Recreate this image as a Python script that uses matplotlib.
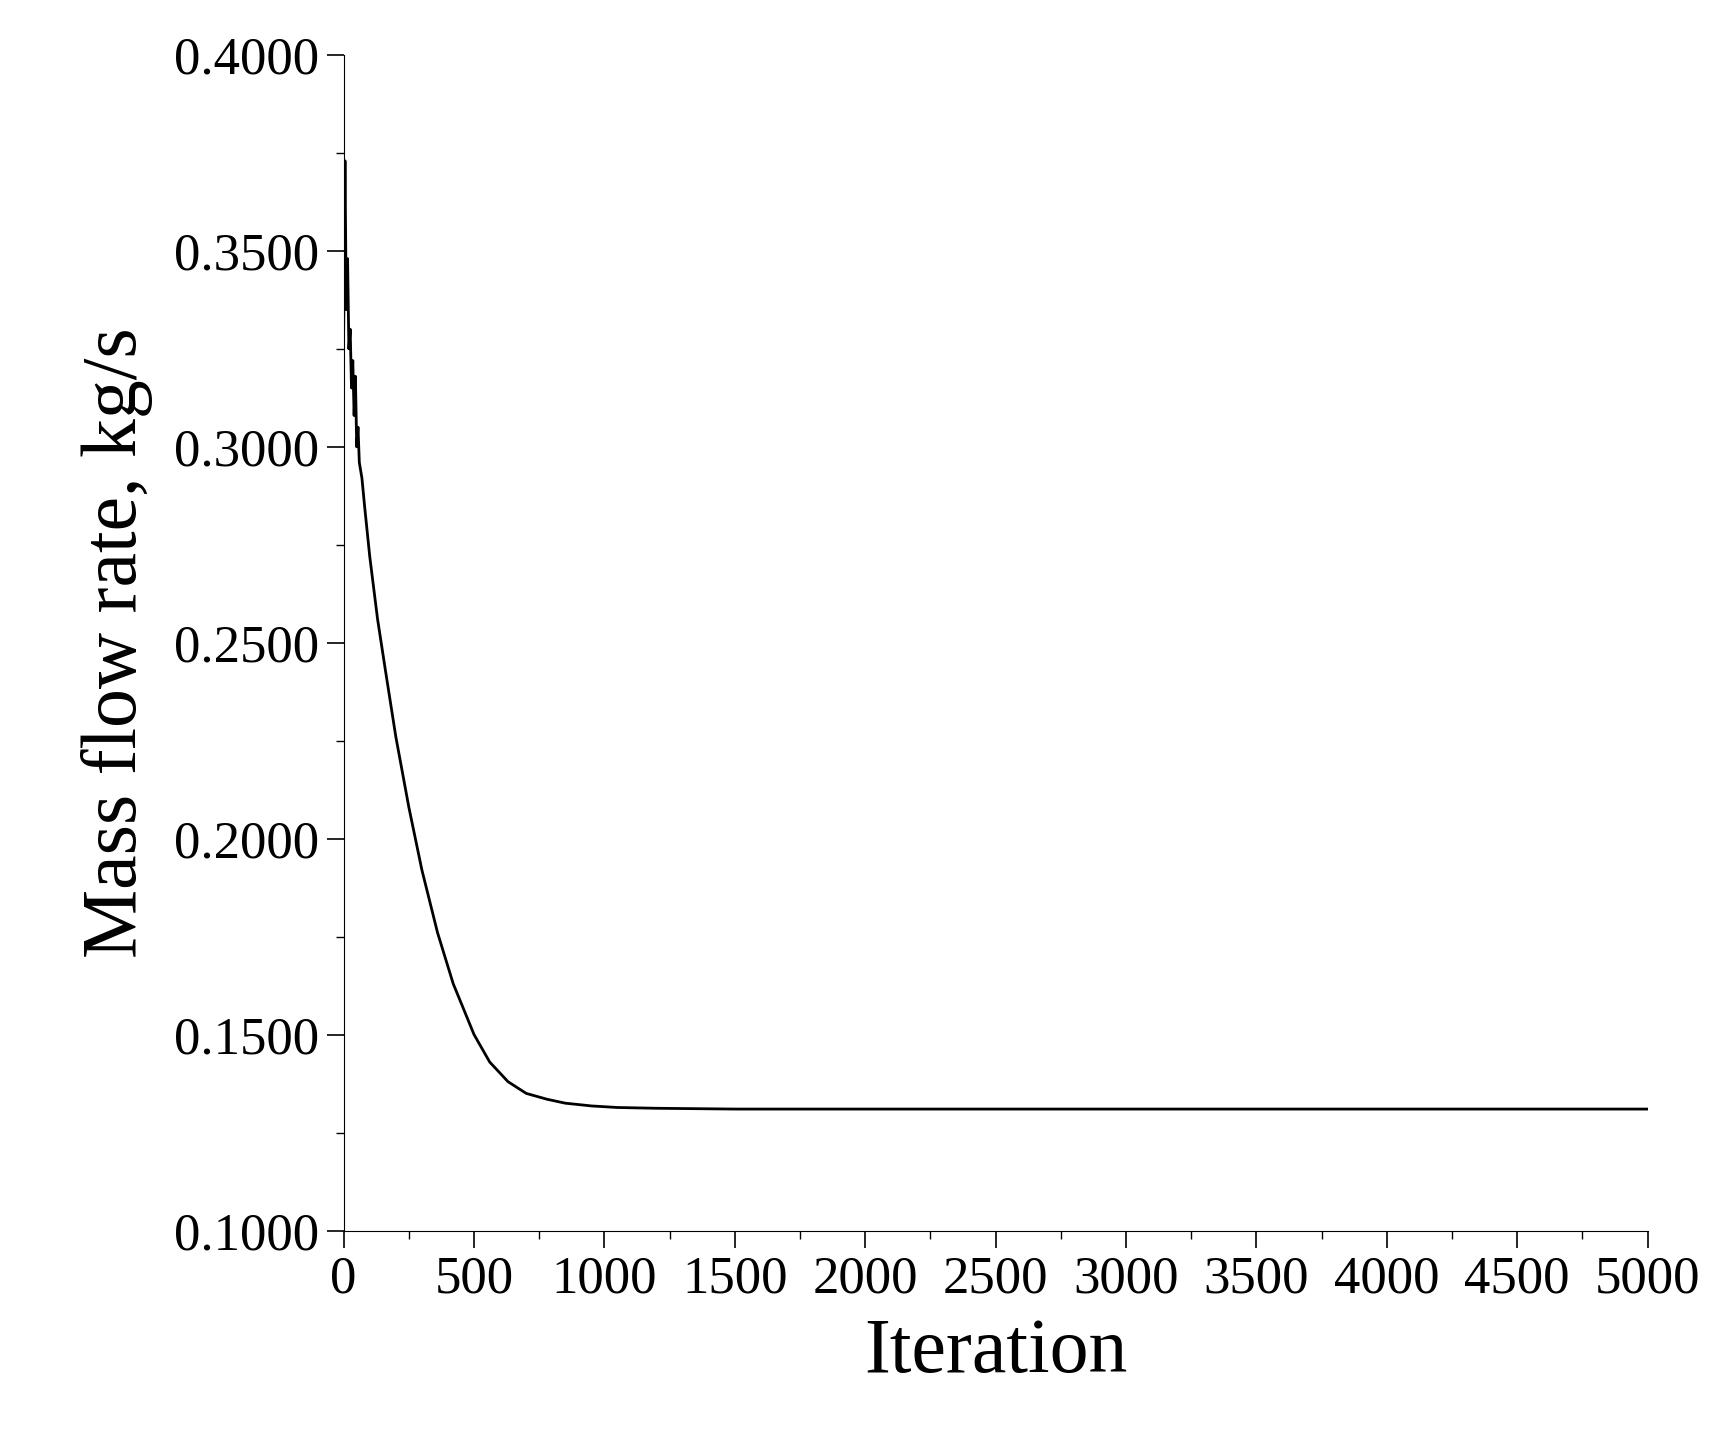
import matplotlib
matplotlib.use("Agg")
import matplotlib.pyplot as plt
from matplotlib.ticker import MultipleLocator, FormatStrFormatter

iters = [0, 5, 10, 15, 20, 25, 30, 35, 40, 45, 50, 55, 60, 70, 80, 100, 130, 160, 200, 250, 300, 360, 420, 500, 560, 630, 700, 780, 850, 950, 1050, 1200, 1350, 1500, 2000, 3000, 4000, 5000]
flow = [0.330, 0.373, 0.335, 0.348, 0.325, 0.330, 0.315, 0.322, 0.308, 0.318, 0.300, 0.305, 0.296, 0.292, 0.285, 0.272, 0.256, 0.243, 0.226, 0.208, 0.192, 0.176, 0.163, 0.150, 0.143, 0.138, 0.135, 0.1335, 0.1325, 0.1318, 0.1314, 0.1312, 0.1311, 0.1310, 0.1310, 0.1310, 0.1310, 0.1310]

plt.rcParams['font.family'] = ['Liberation Serif', 'DejaVu Serif']
fig = plt.figure(figsize=(17.27, 14.46), dpi=100)
ax = fig.add_axes([0.199, 0.149, 0.755, 0.813])
ax.plot(iters, flow, color='black', lw=2)
ax.set_xlim(0, 5000)
ax.set_ylim(0.1, 0.4)
ax.spines['top'].set_visible(False)
ax.spines['right'].set_visible(False)
ax.xaxis.set_major_locator(MultipleLocator(500))
ax.xaxis.set_minor_locator(MultipleLocator(250))
ax.yaxis.set_major_locator(MultipleLocator(0.05))
ax.yaxis.set_minor_locator(MultipleLocator(0.025))
ax.yaxis.set_major_formatter(FormatStrFormatter('%.4f'))
ax.tick_params(which='major', length=12, width=1.2, labelsize=38, pad=6)
ax.tick_params(which='minor', length=6, width=1)
ax.set_xlabel('Iteration', fontsize=56, labelpad=10)
ax.set_ylabel('Mass flow rate, kg/s', fontsize=56, labelpad=15)
fig.savefig('out.png', dpi=100)
